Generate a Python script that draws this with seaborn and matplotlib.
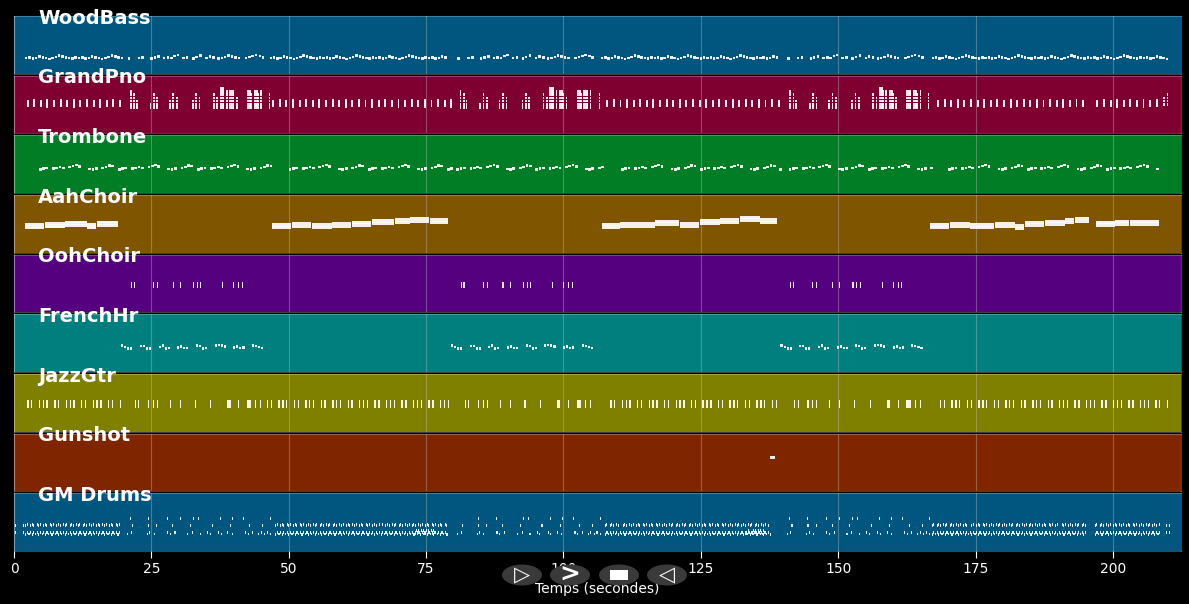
import numpy as np
import pandas as pd
import matplotlib
matplotlib.use("Agg")
import matplotlib.pyplot as plt
from matplotlib.patches import Ellipse, Rectangle
import seaborn as sns

#----------------------------------------------------------------------------------
# pistes et couleurs
tracks = ['WoodBass', 'GrandPno', 'Trombone', 'AahChoir', 'OohChoir',
          'FrenchHr', 'JazzGtr', 'Gunshot', 'GM Drums']
track_colors = ['#00567f', '#7f0030', '#007d25', '#7f5500', '#55007f',
                '#007f7f', '#7f7f00', '#7f2600', '#00567f']

# la partie B revient toutes les 60 s
b_offsets = [0.0, 60.0, 120.0]

#----------------------------------------------------------------------------------
# WoodBass
bass_a_spans = [(2.0, 19.5), (46.5, 78.5), (106.8, 139.2), (167.0, 210.0)]
bass_a_contour = [34, 36, 33, 35, 38, 36, 34, 32, 35, 37, 40, 38, 36, 34, 33, 36]
bass_b_on = [20.7, 22.5, 23.2, 24.8, 25.4, 26.1, 27.1, 27.8, 28.4, 29.0, 29.6, 30.6, 31.3,
             32.4, 33.0, 33.7, 34.8, 35.4, 36.1, 37.0, 37.6, 38.2, 38.8, 39.4, 40.1, 40.7,
             42.0, 42.6, 43.2, 43.8, 44.5, 45.1]
bass_b_pitch = [33, 34, 36, 33, 36, 38, 34, 36, 35, 39, 41, 34, 36, 33, 37, 40, 35, 38,
                36, 33, 35, 37, 40, 38, 36, 34, 35, 37, 39, 41, 39, 36]

# GrandPno
pno_a_spans = [(2.3, 19.5), (47.0, 79.5), (107.8, 139.0), (168.0, 195.2), (197.0, 208.5)]
pno_a_chords = [[60, 65, 70], [60, 64, 68, 72], [61, 66, 70], [59, 64, 68, 72]]
pno_b_on = [21.1, 21.7, 22.2, 24.7, 25.3, 25.9, 28.2, 28.8, 29.5, 32.4, 33.0, 33.6, 36.2,
            36.8, 37.4, 38.0, 38.6, 39.2, 39.8, 40.4, 42.4, 43.0, 43.6, 44.2, 44.8, 46.4]
pno_b_top = [92, 88, 74, 70, 85, 80, 72, 85, 80, 74, 87, 82, 90, 84, 100, 96, 92, 98,
             88, 80, 97, 90, 94, 86, 92, 85]
pno_b_dur = [0.3, 0.3, 0.3, 0.3, 0.3, 0.3, 0.3, 0.3, 0.3, 0.3, 0.3, 0.3, 0.3,
             0.3, 0.8, 0.3, 0.3, 0.8, 0.3, 0.3, 0.8, 0.3, 0.8, 0.3, 0.3, 0.2]
pno_end_on = [209.2, 209.8]
pno_end_top = [78, 85]

# Trombone
trb_spans = [(4.5, 47.0), (50.0, 79.5), (80.5, 107.0), (110.5, 139.5), (141.0, 167.0), (170.0, 208.0)]
trb_contour = [52, 54, 55, None, 54, 55, 57, 55, None, 57, 60, 62, 58, None, None,
               53, 52, 54, None, 55, 57, 61, 59, None]

# AahChoir : blocs (début, fin, hauteur centrale)
aah_start = [2.0, 5.6, 9.3, 13.3, 15.1,
             47.0, 50.6, 54.2, 57.9, 61.5, 65.1, 69.3, 72.1, 75.7,
             107.0, 110.3, 116.7, 121.2, 124.8, 128.5, 132.1, 135.8,
             166.7, 170.3, 174.0, 178.5, 182.2, 184.0, 187.6, 191.3, 193.1,
             196.9, 200.4, 203.1]
aah_end = [5.6, 9.3, 13.3, 15.1, 19.0,
           50.6, 54.2, 57.9, 61.5, 65.1, 69.3, 72.1, 75.7, 79.0,
           110.3, 116.7, 121.2, 124.8, 128.5, 132.1, 135.8, 139.0,
           170.3, 174.0, 178.5, 182.2, 184.0, 187.6, 191.3, 193.1, 195.8,
           200.4, 203.1, 208.5]
aah_pitch = [58, 60, 64, 58, 64,
             59, 61, 59, 61, 63, 68, 70, 72, 70,
             58, 61, 65, 61, 68, 70, 74, 70,
             59, 61, 59, 61, 57, 63, 65, 70, 72,
             63, 65, 65]

# OohChoir (partie B)
ooh_on = [21.3, 21.8, 25.3, 26.0, 28.9, 30.2, 32.6, 33.3, 33.9, 37.9, 39.9, 40.8, 41.5]

# FrenchHr (partie B) : groupes de 4 notes
horn_group_on = [19.5, 22.9, 26.3, 29.7, 33.1, 36.5, 39.9, 43.3]
horn_group_pitch = [[58, 55, 52, 52], [57, 57, 52, 52], [55, 58, 52, 53], [54, 56, 53, 53],
                    [58, 57, 52, 53], [58, 59, 58, 56], [54, 56, 53, 54], [58, 57, 55, 53]]

# JazzGtr
gtr_a_spans = [(2.4, 19.5), (46.0, 79.5), (108.5, 139.4), (168.5, 210.4)]
gtr_a_chords = [[54, 60, 66], [56, 61, 66], None, [54, 60, 66], [55, 61, 67], [56, 62, 66], None]
gtr_b_on = [22.0, 22.6, 24.4, 25.3, 26.0, 28.4, 30.2, 32.9, 35.7, 38.8, 40.8, 42.4, 43.9, 44.8]
gtr_b_dur = [0.2, 0.2, 0.2, 0.2, 0.2, 0.2, 0.2, 0.2, 0.2, 0.6, 0.2, 0.8, 0.2, 0.2]

# Gunshot
gun_on = [137.6]
gun_pitch = [75]

# GM Drums
drum_a_spans = [(2.0, 19.2), (47.5, 78.8), (107.5, 137.6), (167.0, 195.2), (196.7, 208.5)]
drum_low_cycle = [36, 41, 38, 41]
drum_hat_cycle = [56, 58, None, 56, 58, 56, None, 58]
drum_fill_spans = [(73.0, 76.5), (133.0, 136.5)]
drum_top_on = [21.1, 24.4, 27.8, 30.2, 32.6, 33.5, 37.5, 39.7, 41.7, 46.6]
drum_b_low_on = [20.6, 21.3, 24.2, 24.6, 25.4, 27.8, 28.3, 29.2, 31.5, 32.4, 33.8, 35.1,
                 35.6, 37.1, 37.6, 38.8, 39.6, 42.0, 42.5, 43.3, 44.4, 44.9, 45.5, 46.0, 46.6]
drum_b_hat_on = [21.5, 24.4, 25.9, 28.8, 32.0, 36.0, 39.3, 42.8, 45.2]
drum_intro_on = [0.2, 1.6]
drum_end_on = [209.6, 210.2]

#----------------------------------------------------------------------------------
# construction de la table de notes
rows = []

def add(track, t, dur, pitch):
    if pitch is None:
        return
    if isinstance(pitch, (list, tuple)):
        for p in pitch:
            rows.append((track, t, dur, p))
    else:
        rows.append((track, t, dur, pitch))

def pulse(track, span, step, cycle, dur):
    for i, t in enumerate(np.arange(span[0], span[1], step)):
        add(track, t, dur, cycle[i % len(cycle)])

for sp in bass_a_spans:
    pulse('WoodBass', sp, 0.6, bass_a_contour, 0.45)
for off in b_offsets:
    for t, p in zip(bass_b_on, bass_b_pitch):
        add('WoodBass', t + off, 0.45, p)

for sp in pno_a_spans:
    pulse('GrandPno', sp, 1.2, pno_a_chords, 0.35)
for off in b_offsets:
    for t, top, d in zip(pno_b_on, pno_b_top, pno_b_dur):
        add('GrandPno', t + off, d, list(range(57, top + 1, 7)))
for t, top in zip(pno_end_on, pno_end_top):
    add('GrandPno', t, 0.25, list(range(64, top + 1, 7)))

for sp in trb_spans:
    pulse('Trombone', sp, 0.6, trb_contour, 0.5)

for s, e, p in zip(aah_start, aah_end, aah_pitch):
    add('AahChoir', s, e - s - 0.1, [p - 4, p, p + 4])

for off in b_offsets:
    for t in ooh_on:
        add('OohChoir', t + off, 0.2, [57, 64])

for off in b_offsets:
    for t, ps in zip(horn_group_on, horn_group_pitch):
        for k, p in enumerate(ps):
            add('FrenchHr', t + off + 0.55 * k, 0.4, p)

for sp in gtr_a_spans:
    pulse('JazzGtr', sp, 0.7, gtr_a_chords, 0.25)
for off in b_offsets:
    for t, d in zip(gtr_b_on, gtr_b_dur):
        add('JazzGtr', t + off, d, [54, 60, 66])

for t, p in zip(gun_on, gun_pitch):
    add('Gunshot', t, 0.9, p)

for sp in drum_a_spans:
    pulse('GM Drums', sp, 0.3, drum_low_cycle, 0.22)
    pulse('GM Drums', sp, 0.3, drum_hat_cycle, 0.18)
for sp in drum_fill_spans:
    pulse('GM Drums', sp, 0.15, [38, 45, 41], 0.14)
for off in b_offsets:
    for t in drum_top_on:
        add('GM Drums', t + off, 0.15, 72)
    for i, t in enumerate(drum_b_low_on):
        add('GM Drums', t + off, 0.2, [37, 41][i % 2])
    for t in drum_b_hat_on:
        add('GM Drums', t + off, 0.2, 56)
for t in drum_intro_on + drum_end_on:
    add('GM Drums', t, 0.2, [41, 56])

notes = pd.DataFrame(rows, columns=['track', 'start', 'dur', 'pitch'])

#----------------------------------------------------------------------------------
# dessin
sns.set_theme(style='dark')
plt.rcParams['font.family'] = ['DejaVu Sans']

fig, axes = plt.subplots(9, 1, figsize=(11.89, 6.04), dpi=100, sharex=True,
                         gridspec_kw=dict(hspace=0.035))
fig.patch.set_facecolor('black')
fig.subplots_adjust(left=0.0118, right=0.9933, top=0.9735, bottom=0.0877)

h = 5.5
for ax, name, col in zip(axes, tracks, track_colors):
    ax.set_facecolor(col)
    d = notes[notes.track == name]
    ax.bar(d.start, h, width=d.dur, bottom=d.pitch - h / 2, align='edge',
           color='white', linewidth=0, alpha=0.92, zorder=3)
    ax.set_ylim(0, 127)
    ax.set_yticks([])
    ax.set_xlim(0, 212.4)
    ax.set_xticks(np.arange(0, 201, 25))
    ax.grid(axis='x', color='#cccccc', alpha=0.35, linewidth=0.8)
    ax.grid(axis='y', visible=False)
    for sp in ax.spines.values():
        sp.set_visible(True)
        sp.set_color((1, 1, 1, 0.25))
        sp.set_linewidth(0.8)
    ax.tick_params(axis='x', length=0, labelbottom=False)
    ax.text(0.0206, 0.965, name, transform=ax.transAxes, ha='left', va='center',
            fontsize=14, fontweight='bold', color='white', zorder=10)

axb = axes[-1]
axb.tick_params(axis='x', length=5, width=0.8, color='white', labelbottom=True,
                labelcolor='white', labelsize=10, pad=3, bottom=True)
axb.set_xlabel('Temps (secondes)', color='white', fontsize=10, labelpad=4)

# boutons de lecture par-dessus l'axe
btn_x = [522, 570, 619, 667]
btn_y = 575
for x in btn_x:
    fig.add_artist(Ellipse((x / 1189, 1 - btn_y / 604), 40 / 1189, 21 / 604,
                           transform=fig.transFigure, fc='#3a3a3a', ec='none', zorder=20))
fig.text(btn_x[0] / 1189, 1 - btn_y / 604, '▷', ha='center', va='center',
         color='white', fontsize=15, fontweight='bold', zorder=21)
fig.text(btn_x[1] / 1189, 1 - btn_y / 604, '>', ha='center', va='center',
         color='white', fontsize=18, fontweight='bold', zorder=21)
fig.add_artist(Rectangle(((btn_x[2] - 9) / 1189, 1 - (btn_y + 5) / 604), 18 / 1189, 10 / 604,
                         transform=fig.transFigure, fc='white', ec='none', zorder=21))
fig.text(btn_x[3] / 1189, 1 - btn_y / 604, '◁', ha='center', va='center',
         color='white', fontsize=15, fontweight='bold', zorder=21)

fig.savefig('out.png', dpi=100, facecolor='black')
